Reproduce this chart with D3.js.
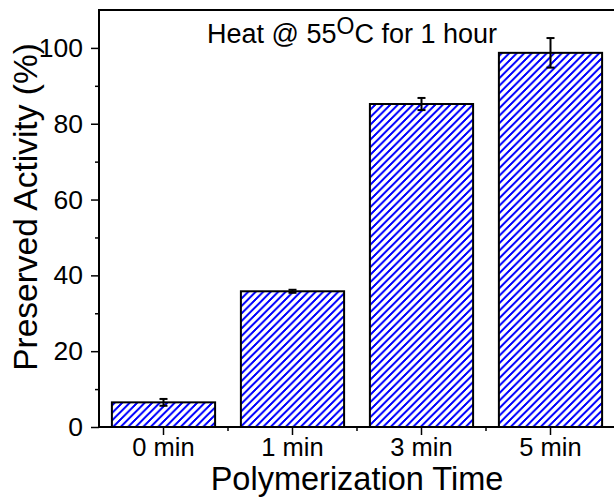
<!DOCTYPE html>
<html>
<head>
<meta charset="utf-8">
<script src="https://cdn.jsdelivr.net/npm/d3@7"></script>
<style>
  html, body { margin: 0; padding: 0; background: #fff; }
  svg { display: block; font-family: "Liberation Sans", Arial, sans-serif; }
</style>
</head>
<body>
<svg id="chart" width="614" height="497"></svg>
<script>
// ---- data ----
const categories = ["0 min", "1 min", "3 min", "5 min"];
const values = [6.5, 35.8, 85.2, 98.7];
const errors = [0.9, 0.4, 1.6, 3.9];
const yTicks = [0, 20, 40, 60, 80, 100];
const yMinorTicks = [10, 30, 50, 70, 90];
const xTitle = "Polymerization Time";
const yTitle = "Preserved Activity (%)";

// ---- layout ----
const W = 614, H = 497;
const plot = { left: 99, right: 615, top: 10, bottom: 427 };

const svg = d3.select("#chart");

const x = d3.scaleBand()
  .domain(categories)
  .range([plot.left, plot.right])
  .paddingInner(0.2)
  .paddingOuter(0.1);

const y = d3.scaleLinear()
  .domain([0, 110])
  .range([plot.bottom, plot.top]);

// hatch pattern
const defs = svg.append("defs");
const s = 7.5;
const pat = defs.append("pattern")
  .attr("id", "hatch")
  .attr("patternUnits", "userSpaceOnUse")
  .attr("width", s).attr("height", s);
pat.append("rect").attr("width", s).attr("height", s).attr("fill", "#fff");
pat.append("path")
  .attr("d", `M0,${s} L${s},0 M${-s/2},${s/2} L${s/2},${-s/2} M${s/2},${s*1.5} L${s*1.5},${s/2}`)
  .attr("stroke", "#0000ff")
  .attr("stroke-width", 1.5)
  .attr("shape-rendering", "crispEdges");

// bars
svg.append("g").selectAll("rect")
  .data(categories)
  .join("rect")
  .attr("x", d => x(d))
  .attr("y", (d, i) => y(values[i]))
  .attr("width", x.bandwidth())
  .attr("height", (d, i) => y(0) - y(values[i]))
  .attr("fill", "url(#hatch)")
  .attr("stroke", "#000")
  .attr("stroke-width", 2);

// error bars
const eg = svg.append("g").attr("stroke", "#000").attr("stroke-width", 2);
categories.forEach((c, i) => {
  const cx = x(c) + x.bandwidth() / 2;
  const y1 = y(values[i] + errors[i]);
  const y2 = y(values[i] - errors[i]);
  const cw = 4;
  eg.append("line").attr("x1", cx).attr("x2", cx).attr("y1", y1).attr("y2", y2);
  eg.append("line").attr("x1", cx - cw).attr("x2", cx + cw).attr("y1", y1).attr("y2", y1);
  eg.append("line").attr("x1", cx - cw).attr("x2", cx + cw).attr("y1", y2).attr("y2", y2);
});

// y axis
const yAxis = d3.axisLeft(y).tickValues(yTicks).tickSize(8).tickPadding(8).tickFormat(d3.format("d"));
const gy = svg.append("g").attr("transform", `translate(${plot.left},0)`).call(yAxis);
gy.select(".domain").remove();
gy.selectAll(".tick line").attr("stroke", "#000").attr("stroke-width", 1.5);
gy.selectAll(".tick text").attr("font-size", 26.5).attr("fill", "#000")
  .attr("font-family", "Liberation Sans, Arial, sans-serif");

const yMinor = d3.axisLeft(y).tickValues(yMinorTicks).tickSize(4).tickFormat("");
const gym = svg.append("g").attr("transform", `translate(${plot.left},0)`).call(yMinor);
gym.select(".domain").remove();
gym.selectAll(".tick line").attr("stroke", "#000").attr("stroke-width", 1.5);

// x axis
const xAxis = d3.axisBottom(x).tickSize(8).tickPadding(2.75);
const gx = svg.append("g").attr("transform", `translate(0,${plot.bottom})`).call(xAxis);
gx.select(".domain").remove();
gx.selectAll(".tick line").attr("stroke", "#000").attr("stroke-width", 1.5);
gx.selectAll(".tick text").attr("font-size", 25.5).attr("fill", "#000")
  .attr("font-family", "Liberation Sans, Arial, sans-serif");

// x minor ticks at band boundaries
const step = x.step();
const minorX = categories.slice(1).map(c => x(c) + x.bandwidth() / 2 - step / 2);
svg.append("g").selectAll("line").data(minorX).join("line")
  .attr("x1", d => d).attr("x2", d => d)
  .attr("y1", plot.bottom).attr("y2", plot.bottom + 4)
  .attr("stroke", "#000").attr("stroke-width", 1.5);

// frame lines (left, bottom, top)
const frame = svg.append("g").attr("stroke", "#000").attr("stroke-width", 2).attr("fill", "none");
frame.append("line").attr("x1", plot.left).attr("x2", plot.left).attr("y1", plot.top).attr("y2", plot.bottom + 1);
frame.append("line").attr("x1", plot.left - 1).attr("x2", W).attr("y1", plot.bottom).attr("y2", plot.bottom);
frame.append("line").attr("x1", plot.left - 1).attr("x2", W).attr("y1", plot.top).attr("y2", plot.top);

// titles
svg.append("text")
  .attr("x", (plot.left + plot.right) / 2)
  .attr("y", 490)
  .attr("text-anchor", "middle")
  .attr("font-size", 32.5)
  .text(xTitle);

svg.append("text")
  .attr("transform", `translate(37,207) rotate(-90)`)
  .attr("text-anchor", "middle")
  .attr("font-size", 33.5)
  .text(yTitle);

// annotation
const ann = svg.append("text").attr("x", 207).attr("y", 43).attr("font-size", 27);
ann.append("tspan").text("Heat @ 55");
ann.append("tspan").attr("font-size", 23).attr("dy", -9).text("O");
ann.append("tspan").attr("dy", 9).text("C for 1 hour");
</script>
</body>
</html>
